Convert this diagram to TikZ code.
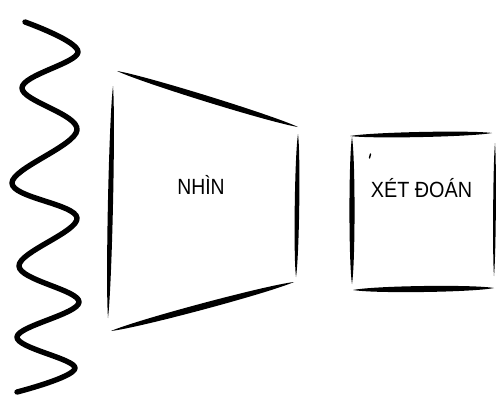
\documentclass[tikz,border=0pt]{standalone}
\usepackage{fontspec}
\setmainfont{Liberation Sans}
\usetikzlibrary{calc}
\newcommand\taper[3]{%
  \fill[ink] (#1) .. controls ($(#1)!0.15!(#2)!#3!90:(#2)$) and ($(#1)!0.85!(#2)!#3!90:(#2)$) .. (#2)
    .. controls ($(#1)!0.85!(#2)!#3!-90:(#2)$) and ($(#1)!0.15!(#2)!#3!-90:(#2)$) .. (#1) -- cycle;}
\tikzset{
  ink/.style={black},
  lbl/.style={font=\fontsize{22}{24}\selectfont, inner sep=0pt, text=black, anchor=base}
}
\begin{document}
\begin{tikzpicture}[x=1pt,y=-1pt]
\useasboundingbox (0,0) rectangle (498,400);
\fill[white] (0,0) rectangle (498,400);
% wave
\draw[line width=5.4pt, line cap=round, line join=round] plot[smooth, tension=0.6] coordinates {
 (25,22) (78,52) (22,88) (77,130) (12,183) (77,218) (19,266) (79,302) (17,337) (75,368) (17,392)};
% trapezoid
\coordinate (t1) at (117,71);
\coordinate (t2) at (298,127);
\coordinate (l1) at (113,86);
\coordinate (l2) at (108,318);
\coordinate (b1) at (111,331);
\coordinate (b2) at (294,282);
\coordinate (r1) at (298,134);
\coordinate (r2) at (296,277);
\taper{t1}{t2}{4pt}
\taper{l1}{l2}{3.4pt}
\taper{b1}{b2}{4.2pt}
\taper{r1}{r2}{3pt}
% square
\coordinate (s1) at (350,136);
\coordinate (s2) at (492,133);
\coordinate (s3) at (352,137);
\coordinate (s4) at (352,284);
\coordinate (s5) at (353,290);
\coordinate (s6) at (494,288);
\coordinate (s7) at (495,143);
\coordinate (s8) at (494,276);
\taper{s1}{s2}{3.4pt}
\taper{s3}{s4}{3.4pt}
\taper{s5}{s6}{4pt}
\taper{s7}{s8}{1.8pt}
\draw[line width=1.4pt, line cap=round] (370.5,154) -- (369.5,158);
% labels
\node[lbl] (nhin) at (201,194) {\scalebox{0.88}[1]{NHÌN}};
\node[lbl] (xet) at (421.5,197) {\scalebox{0.9}[1]{XÉT ĐOÁN}};
\end{tikzpicture}
\end{document}
